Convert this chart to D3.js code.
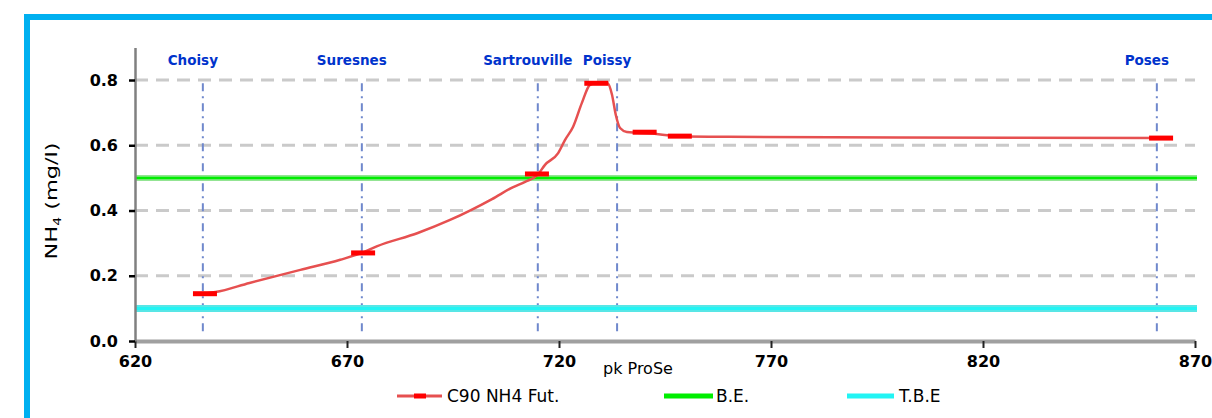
<!DOCTYPE html>
<html>
<head>
<meta charset="utf-8">
<script src="https://cdn.jsdelivr.net/npm/d3@7"></script>
<style>
  body { margin: 0; background: #fff; }
  text { font-family: "DejaVu Sans", sans-serif; }
</style>
</head>
<body>
<div id="chart"></div>
<script>
// stations along the Seine (pk ProSe)
const stations = ["Choisy", "Suresnes", "Sartrouville", "Poissy", "Poses"];
const stationKm = [636, 673.5, 715, 733.7, 861];

// C90 NH4 Fut. profile
const profileKm = [634, 639, 647, 659, 668.4, 673.5, 677, 686.7, 694.3, 704.2, 709.2, 712, 715, 716.7, 719.8,
  721.4, 723.3, 725.4, 727.3, 729, 731.5, 732.5, 733.4, 734.4, 736, 742, 748, 760, 800, 864];
const profileNH4 = [0.143, 0.150, 0.178, 0.218, 0.249, 0.27, 0.29, 0.331, 0.371, 0.435, 0.472, 0.488, 0.51, 0.54, 0.576,
  0.616, 0.656, 0.73, 0.785, 0.792, 0.79, 0.755, 0.693, 0.653, 0.641, 0.636, 0.628, 0.626, 0.624, 0.622];

// dash markers of the series
const markerKm = [636.5, 673.8, 714.8, 728.8, 740.2, 748.5, 862];
const markerNH4 = [0.145, 0.27, 0.512, 0.79, 0.64, 0.628, 0.622];

// thresholds
const beValue = 0.5;   // B.E.
const tbeValue = 0.1;  // T.B.E

const xTicks = [620, 670, 720, 770, 820, 870];
const yTicks = [0, 0.2, 0.4, 0.6, 0.8];

const W = 1212, H = 418;
const svg = d3.select("#chart").append("svg")
  .attr("width", W).attr("height", H);

// outer frame
svg.append("rect")
  .attr("x", 27).attr("y", 17).attr("width", 1300).attr("height", 500)
  .attr("fill", "none").attr("stroke", "#00b0f0").attr("stroke-width", 6);

var x = d3.scaleLinear().domain([620, 870]).range([135, 1195]);
var y = d3.scaleLinear().domain([0, 0.9]).range([341, 47.4]);

// gridlines
svg.append("g").selectAll("line")
  .data(yTicks.filter(d => d > 0))
  .enter().append("line")
    .attr("x1", x(620)).attr("x2", x(870))
    .attr("y1", d => y(d)).attr("y2", d => y(d))
    .attr("stroke", "#cacaca").attr("stroke-width", 3)
    .attr("stroke-dasharray", "13,8");

// station lines
svg.append("g").selectAll("line")
  .data(stationKm)
  .enter().append("line")
    .attr("x1", d => x(d)).attr("x2", d => x(d))
    .attr("y1", y(0.79)).attr("y2", y(0.03))
    .attr("stroke", "#6f88cc").attr("stroke-width", 2)
    .attr("stroke-dasharray", "8,5,2,5");

// station names
svg.append("g").selectAll("text")
  .data(stations)
  .enter().append("text")
    .attr("x", (d, i) => x(stationKm[i]) - 10)
    .attr("y", 65)
    .attr("text-anchor", "middle")
    .attr("font-size", "13.5px").attr("font-weight", "bold")
    .attr("fill", "#0033cc")
    .text(d => d);

// thresholds
function hline(v, band, core, bw, cw) {
  svg.append("line").attr("x1", x(620)).attr("x2", x(870) + 2)
    .attr("y1", y(v)).attr("y2", y(v))
    .attr("stroke", band).attr("stroke-width", bw);
  svg.append("line").attr("x1", x(620)).attr("x2", x(870) + 2)
    .attr("y1", y(v)).attr("y2", y(v))
    .attr("stroke", core).attr("stroke-width", cw);
}
hline(beValue, "#93e493", "#00ee00", 6, 2.5);
hline(tbeValue, "#58e6e6", "#22f4f4", 7, 3);

// series line
var line = d3.line()
  .x(d => x(d[0])).y(d => y(d[1]))
  .curve(d3.curveMonotoneX);
svg.append("path")
  .datum(profileKm.map((k, i) => [k, profileNH4[i]]))
  .attr("d", line)
  .attr("fill", "none").attr("stroke", "#e65050").attr("stroke-width", 2.5);

svg.append("g").selectAll("rect")
  .data(markerKm)
  .enter().append("rect")
    .attr("x", d => x(d) - 12).attr("width", 24)
    .attr("y", (d, i) => y(markerNH4[i]) - 2.5).attr("height", 5)
    .attr("fill", "#ff0000");

// axes
var xAxis = svg.append("g")
  .attr("transform", "translate(0," + y(0) + ")")
  .call(d3.axisBottom(x).tickValues(xTicks).tickSize(7).tickSizeOuter(0).tickPadding(8));
xAxis.select(".domain").attr("stroke", "#a0a0a0").attr("stroke-width", 4);
xAxis.selectAll(".tick line").attr("stroke", "#222").attr("stroke-width", 2);
xAxis.selectAll("text").attr("font-size", "16px").attr("font-weight", "bold")
  .attr("font-family", "DejaVu Sans").attr("fill", "#000");

var yAxis = svg.append("g")
  .attr("transform", "translate(" + x(620) + ",0)")
  .call(d3.axisLeft(y).tickValues(yTicks).tickFormat(d3.format(".1f")).tickSize(6).tickSizeOuter(0).tickPadding(11));
yAxis.select(".domain").attr("stroke", "#808080").attr("stroke-width", 2.5);
yAxis.selectAll(".tick line").attr("stroke", "#000").attr("stroke-width", 2.5);
yAxis.selectAll("text").attr("font-size", "16px").attr("font-weight", "bold")
  .attr("font-family", "DejaVu Sans").attr("fill", "#000");

// axis titles
svg.append("text")
  .attr("x", 603).attr("y", 374)
  .attr("font-size", "16px")
  .text("pk ProSe");

var yt = svg.append("text")
  .attr("transform", "translate(57,201) rotate(-90) scale(1.4,1)")
  .attr("text-anchor", "middle")
  .attr("font-size", "16px");
yt.append("tspan").text("NH");
yt.append("tspan").attr("font-size", "10px").attr("dy", 4).text("4");
yt.append("tspan").attr("dy", -4).text(" (mg/l)");

// legend
var lg = svg.append("g");
lg.append("line").attr("x1", 397).attr("x2", 442).attr("y1", 396).attr("y2", 396)
  .attr("stroke", "#e65050").attr("stroke-width", 3);
lg.append("rect").attr("x", 414).attr("width", 12).attr("y", 393.5).attr("height", 5).attr("fill", "#ff0000");
lg.append("text").attr("x", 447).attr("y", 402).attr("font-size", "17px").text("C90 NH4 Fut.");

lg.append("line").attr("x1", 664).attr("x2", 713).attr("y1", 396).attr("y2", 396)
  .attr("stroke", "#00ee00").attr("stroke-width", 5);
lg.append("text").attr("x", 716).attr("y", 402).attr("font-size", "17px").text("B.E.");

lg.append("line").attr("x1", 847).attr("x2", 894).attr("y1", 396).attr("y2", 396)
  .attr("stroke", "#22f4f4").attr("stroke-width", 5);
lg.append("text").attr("x", 899).attr("y", 402).attr("font-size", "17px").text("T.B.E");
</script>
</body>
</html>
